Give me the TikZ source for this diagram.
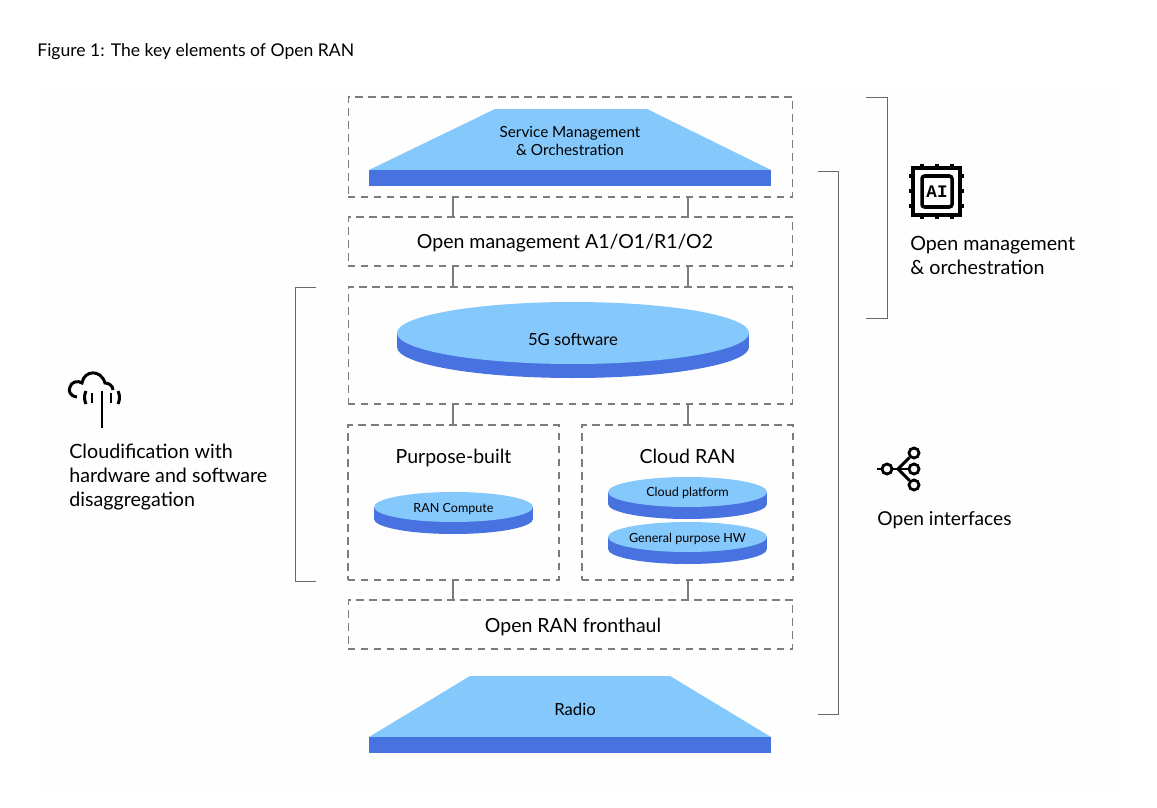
\documentclass[tikz,border=0pt]{standalone}
\usepackage{fontspec}
\setmainfont{Lato}
\newfontfamily\chipfont{Liberation Mono}
\definecolor{disctop}{HTML}{85C8FC}
\definecolor{discside}{HTML}{4872E0}
\definecolor{boxgray}{HTML}{7C7C7C}
\definecolor{paper}{HTML}{FEFEFE}
\tikzset{
	dashbox/.style={draw=boxgray, dash pattern=on 4.2pt off 3.2pt, line width=0.6pt, inner sep=0pt, outer sep=0pt},
	link/.style={draw=boxgray, line width=0.6pt},
	brace/.style={draw=boxgray!85!black, line width=0.5pt},
	lbl/.style={inner sep=0pt, align=center, font=\fontsize{11.1}{13.6}\selectfont},
	small/.style={inner sep=0pt, align=center, font=\fontsize{8.7}{10.6}\selectfont},
	mid/.style={inner sep=0pt, align=center, font=\fontsize{9.5}{11}\selectfont},
	tiny/.style={inner sep=0pt, align=center, font=\fontsize{7.15}{9}\selectfont},
	side/.style={inner sep=0pt, align=left, font=\fontsize{11.2}{13.6}\selectfont},
	icon/.style={line width=1.7pt, black},
	port/.style={circle, draw, line width=1.6pt, minimum size=0.2cm, inner sep=0pt}
}
% flat disc with a rim: centre x, half width, centre y, half height, rim
\newcommand{\disc}[5]{
	\fill[discside] (#1,#3+#5) ellipse[x radius=#2, y radius=#4];
	\fill[discside] (#1-#2,#3) rectangle (#1+#2,#3+#5);
	\fill[disctop] (#1,#3) ellipse[x radius=#2, y radius=#4];
}
\begin{document}
\begin{tikzpicture}[x=0.02cm, y=-0.02cm]
	\useasboundingbox (0,0) rectangle (1157,808);
	\fill[white] (0,0) rectangle (1157,808);
	\fill[paper] (38,85) rectangle (1120,790);

	\node[inner sep=0pt, anchor=west, font=\fontsize{10}{12}\selectfont] (title) at (37,52) {Figure 1: The key elements of Open RAN};

	%dashed boxes
	\node[dashbox, minimum width=8.9cm, minimum height=2cm] (smo) at (570.5,147) {};
	\node[dashbox, minimum width=8.9cm, minimum height=0.98cm] (mgmt) at (570.5,241.5) {};
	\node[dashbox, minimum width=8.9cm, minimum height=2.34cm] (soft) at (570.5,345.5) {};
	\node[dashbox, minimum width=4.22cm, minimum height=3.1cm] (built) at (453.5,502.5) {};
	\node[dashbox, minimum width=4.22cm, minimum height=3.1cm] (cloud) at (687.5,502.5) {};
	\node[dashbox, minimum width=8.9cm, minimum height=0.98cm] (front) at (570.5,624.5) {};

	%links between the boxes
	\coordinate (tapl) at (453,0);
	\coordinate (tapr) at (688,0);
	\draw[link] (smo.south -| tapl) -- (mgmt.north -| tapl);
	\draw[link] (smo.south -| tapr) -- (mgmt.north -| tapr);
	\draw[link] (mgmt.south -| tapl) -- (soft.north -| tapl);
	\draw[link] (mgmt.south -| tapr) -- (soft.north -| tapr);
	\draw[link] (soft.south -| tapl) -- (built.north -| tapl);
	\draw[link] (soft.south -| tapr) -- (cloud.north -| tapr);
	\draw[link] (built.south -| tapl) -- (front.north -| tapl);
	\draw[link] (cloud.south -| tapr) -- (front.north -| tapr);

	%trapezoids
	\fill[disctop] (369,170) -- (495,109) -- (647,109) -- (771,170) -- cycle;
	\fill[discside] (369,170) rectangle (771,186);
	\fill[disctop] (369,737) -- (470,676) -- (670,676) -- (771,737) -- cycle;
	\fill[discside] (369,737) rectangle (771,753);

	%discs
	\disc{573}{176}{333}{31}{14}
	\disc{453.5}{79.5}{507}{15}{12}
	\disc{687.5}{79.5}{492}{15}{12}
	\disc{687.5}{79.5}{537}{15}{12}

	%box texts
	\node[small] (smotext) at (570,141) {Service Management\\\& Orchestration};
	\node[lbl] (mgmttext) at (565,243) {Open management A1/O1/R1/O2};
	\node[mid] (softtext) at (573,339) {5G software};
	\node[lbl] (builttext) at (453.5,458) {Purpose-built};
	\node[lbl] (cloudtext) at (687.5,456) {Cloud RAN};
	\node[tiny] (ran) at (453.5,509) {RAN Compute};
	\node[tiny] (platform) at (687.5,493) {Cloud platform};
	\node[tiny] (hw) at (687.5,539) {General purpose HW};
	\node[lbl] (fronttext) at (573,627) {Open RAN fronthaul};
	\node[mid] (radio) at (575,709) {Radio};

	%brackets
	\draw[brace] (866,97) -- (887,97) -- (887,318) -- (866,318);
	\draw[brace] (818,171) -- (838,171) -- (838,714) -- (818,714);
	\draw[brace] (316,287) -- (295,287) -- (295,581) -- (316,581);

	%side texts
	\node[side, anchor=north west] (orch) at (910,236) {Open management\\\& orchestration};
	\node[side, anchor=north west] (dis) at (69,444) {Cloudification with\\hardware and software\\disaggregation};
	\node[side, anchor=west, font=\fontsize{10.9}{13}\selectfont] (ifaces) at (877,520) {Open interfaces};

	%chip icon
	\foreach \t in {0,15,30}{
		\draw[icon, line width=2pt] (922+\t,164) -- (922+\t,219);
		\draw[icon, line width=2pt] (909,176+\t) -- (964,176+\t);
	}
	\fill[paper] (913,168) rectangle (960,215);
	\draw[icon, line width=2pt] (913,168) rectangle (960,215);
	\draw[icon, line width=2pt, rounded corners=1.5pt] (922,176) rectangle (952,207);
	\node[inner sep=0pt, font=\chipfont\bfseries\fontsize{10}{10}\selectfont] (ai) at (937,192) {AI};

	%cloud icon
	\draw[icon] (77,397) .. controls (70,396) and (68,391) .. (70,387) .. controls (71,382) and (78,380) .. (82,383)
		.. controls (84,370) and (101,369) .. (105,383) .. controls (109,383) and (113,386) .. (113,390);
	\draw[icon] (102,391) -- (102,428);
	\draw[icon] (92,393) -- (92,403);
	\draw[icon] (111,393) -- (111,403);
	\draw[icon] (86,391) .. controls (84,395) and (84,400) .. (86,404);
	\draw[icon] (118,391) .. controls (120,395) and (120,400) .. (118,404);

	%interfaces icon
	\coordinate (hub) at (898,469);
	\coordinate (stub) at (877,469);
	\node[port] (n0) at (887,469) {};
	\node[port] (n1) at (914,453) {};
	\node[port] (n2) at (914,469) {};
	\node[port] (n3) at (914,485) {};
	\draw[icon] (stub) -- (n0);
	\draw[icon] (n0) -- (hub);
	\draw[icon] (hub) -- (n1);
	\draw[icon] (hub) -- (n2);
	\draw[icon] (hub) -- (n3);
\end{tikzpicture}
\end{document}
